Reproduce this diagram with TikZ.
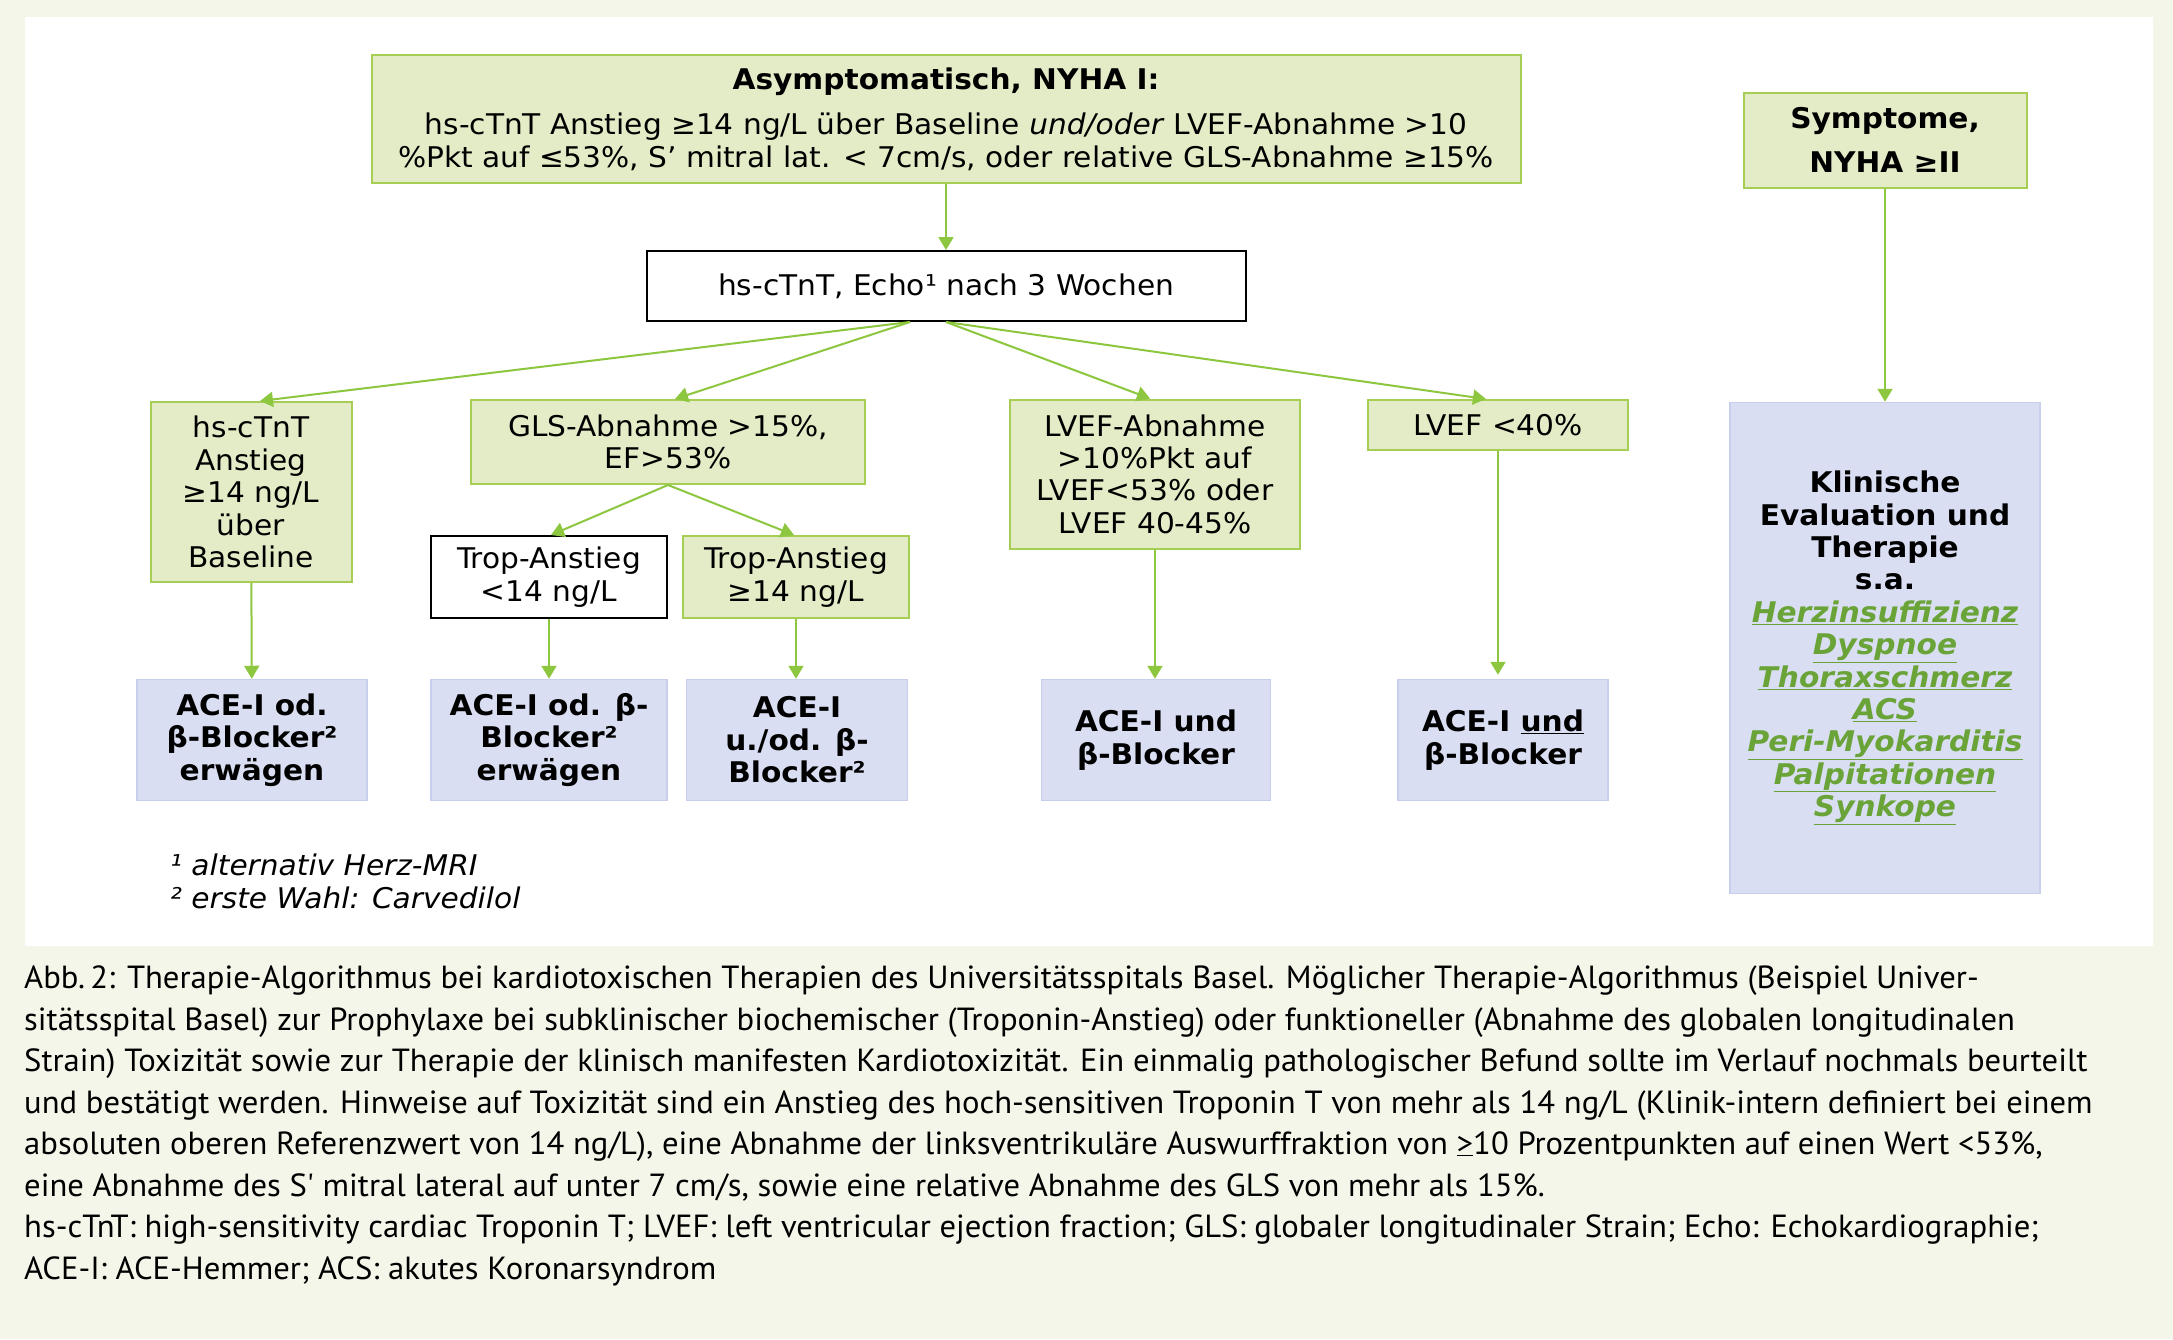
\documentclass[tikz,border=0pt]{standalone}
\usepackage{fontspec}
\setmainfont[FakeStretch=1.04]{DejaVu Sans}
\newfontfamily\capfont[FakeStretch=1.02]{PT Sans}
\usetikzlibrary{arrows.meta,calc}
\definecolor{bgc}{HTML}{F4F6EA}
\definecolor{gfill}{HTML}{E4ECC7}
\definecolor{gborder}{HTML}{A6CE54}
\definecolor{garrow}{HTML}{8DC63F}
\definecolor{lfill}{HTML}{D9DEF2}
\definecolor{lborder}{HTML}{C8CFEC}
\definecolor{lgreen}{HTML}{6AA438}
\newcommand{\lnk}[1]{{\color{lgreen}\itshape\underline{#1}}}
\tikzset{
  boxtext/.style={align=center, inner sep=0pt, font=\fontsize{28.5}{32.4}\selectfont},
  gbox/.style={boxtext, draw=gborder, fill=gfill, line width=2pt},
  wbox/.style={boxtext, draw=black, fill=white, line width=2pt},
  lbox/.style={boxtext, draw=lborder, fill=lfill, line width=1.5pt, font=\fontsize{28.5}{32.6}\selectfont\bfseries},
  arr/.style={draw=garrow, line width=2pt, -{Triangle[width=15pt,length=13pt]}},
  captxt/.style={anchor=base west, inner sep=0pt, font=\capfont\fontsize{32}{41.6}\selectfont},
  fntxt/.style={anchor=base west, inner sep=0pt, font=\fontsize{28.5}{33}\selectfont\itshape}
}
\begin{document}
\begin{tikzpicture}[x=1pt,y=-1pt]
\useasboundingbox (0,0) rectangle (2173,1339);
\fill[bgc] (0,0) rectangle (2173,1339);
\fill[white] (25,17) rectangle (2153,946);

% top row
\node[gbox, minimum width=1149, minimum height=128] (top) at (946,119)
  {\textbf{Asymptomatisch, NYHA I:}\\[13pt]
   hs-cTnT Anstieg ≥14 ng/L über Baseline \textit{und/oder} LVEF-Abnahme >10\\
   \%Pkt auf ≤53\%, S’ mitral lat. < 7cm/s, oder relative GLS-Abnahme ≥15\%};
\node[wbox, minimum width=599, minimum height=70] (hs) at (946,286)
  {hs-cTnT, Echo¹ nach 3 Wochen};
\node[gbox, minimum width=283, minimum height=95, font=\fontsize{28.5}{32.4}\selectfont\bfseries] (sym) at (1885,140)
  {Symptome,\\[12pt] NYHA ≥II};
\node[lbox, minimum width=310, minimum height=491, font=\fontsize{28.5}{32.4}\selectfont\bfseries] (kl) at (1885,648)
  {Klinische\\ Evaluation und\\ Therapie\\ s.a.\\
   \lnk{Herzinsuffizienz}\\ \lnk{Dyspnoe}\\ \lnk{Thoraxschmerz}\\ \lnk{ACS}\\
   \lnk{Peri-Myokarditis}\\ \lnk{Palpitationen}\\ \lnk{Synkope}};

% second row
\node[gbox, minimum width=201, minimum height=180] (hsA) at (251,492)
  {hs-cTnT\\ Anstieg\\ ≥14 ng/L\\ über\\ Baseline};
\node[gbox, minimum width=394, minimum height=84] (gls) at (668,442)
  {GLS-Abnahme >15\%,\\ EF>53\%};
\node[gbox, minimum width=290, minimum height=149] (lvefA) at (1155,474)
  {LVEF-Abnahme\\ >10\%Pkt auf\\ LVEF<53\% oder\\ LVEF 40-45\%};
\node[gbox, minimum width=260, minimum height=50] (lvef40) at (1498,425)
  {LVEF <40\%};

% third row
\node[wbox, minimum width=236, minimum height=82] (tropL) at (549,577)
  {Trop-Anstieg\\ <14 ng/L};
\node[gbox, minimum width=226, minimum height=82] (tropG) at (796,577)
  {Trop-Anstieg\\ ≥14 ng/L};

% therapy row
\node[lbox, minimum width=230, minimum height=121] (ace1) at (252,740)
  {ACE-I od.\\ β-Blocker²\\ erwägen};
\node[lbox, minimum width=236, minimum height=121] (ace2) at (549,740)
  {ACE-I od. β-\\ Blocker²\\ erwägen};
\node[lbox, minimum width=221, minimum height=121] (ace3) at (797,740)
  {ACE-I\\ u./od. β-\\ Blocker²};
\node[lbox, minimum width=229, minimum height=121] (ace4) at (1156,740)
  {ACE-I und\\ β-Blocker};
\node[lbox, minimum width=210, minimum height=121] (ace5) at (1503,740)
  {ACE-I \underline{und}\\ β-Blocker};

% connectors
\coordinate (hsL) at ($(hs.south)+(-36,0)$);
\coordinate (hsR) at (hs.south);
\draw[arr] (top) -- (hs);
\draw[arr] (hsL) -- ($(hsA.north)+(9,0)$);
\draw[arr] (hsL) -- ($(gls.north)+(7,0)$);
\draw[arr] (hsR) -- ($(lvefA.north)+(-5,0)$);
\draw[arr] (hsR) -- ($(lvef40.north)+(-12,0)$);
\draw[arr] (gls.south) -- ($(tropL.north)+(2,0)$);
\draw[arr] (gls.south) -- ($(tropG.north)+(-2,0)$);
\draw[arr] (hsA) -- (ace1);
\draw[arr] (tropL) -- (tropL |- ace2.north);
\draw[arr] (tropG) -- (tropG |- ace3.north);
\draw[arr] (lvefA) -- (lvefA |- ace4.north);
\draw[arr] (lvef40.south) -- ($(lvef40.south |- ace5.north)+(0,-4)$);
\draw[arr] (sym) -- (kl);

% footnotes
\node[fntxt] (fn1) at (170,875) {¹ alternativ Herz-MRI};
\node[fntxt] (fn2) at (170,908) {² erste Wahl: Carvedilol};

% caption
\node[captxt] (c1) at (24,988) {Abb.\,2: Therapie-Algorithmus bei kardiotoxischen Therapien des Universitätsspitals Basel. Möglicher Therapie-Algorithmus (Beispiel Univer-};
\node[captxt] (c2) at (24,1030) {sitätsspital Basel) zur Prophylaxe bei subklinischer biochemischer (Troponin-Anstieg) oder funktioneller (Abnahme des globalen longitudinalen};
\node[captxt] (c3) at (24,1071) {Strain) Toxizität sowie zur Therapie der klinisch manifesten Kardiotoxizität. Ein einmalig pathologischer Befund sollte im Verlauf nochmals beurteilt};
\node[captxt] (c4) at (24,1113) {und bestätigt werden. Hinweise auf Toxizität sind ein Anstieg des hoch-sensitiven Troponin T von mehr als 14 ng/L (Klinik-intern definiert bei einem};
\node[captxt] (c5) at (24,1154) {absoluten oberen Referenzwert von 14 ng/L), eine Abnahme der linksventrikuläre Auswurffraktion von \underline{>}10 Prozentpunkten auf einen Wert <53\%,};
\node[captxt] (c6) at (24,1196) {eine Abnahme des S\textquotesingle{} mitral lateral auf unter 7 cm/s, sowie eine relative Abnahme des GLS von mehr als 15\%.};
\node[captxt] (c7) at (24,1237) {hs-cTnT: high-sensitivity cardiac Troponin T; LVEF: left ventricular ejection fraction; GLS: globaler longitudinaler Strain; Echo: Echokardiographie;};
\node[captxt] (c8) at (24,1279) {ACE-I: ACE-Hemmer; ACS: akutes Koronarsyndrom};
\end{tikzpicture}
\end{document}
